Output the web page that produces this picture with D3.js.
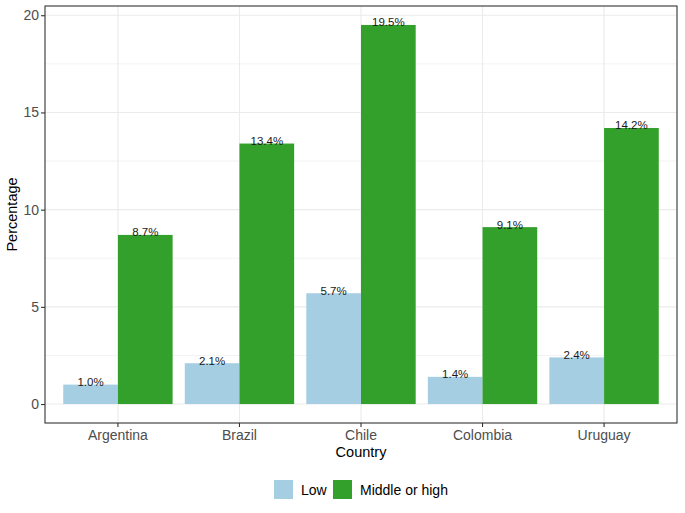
<!DOCTYPE html>
<html><head><meta charset="utf-8">
<script src="https://cdn.jsdelivr.net/npm/d3@7"></script>
<style>body{margin:0;background:#fff;font-family:"Liberation Sans",Arial,Helvetica,sans-serif;}</style>
</head><body><svg id="c" width="685" height="513"></svg>
<script>
const countries = ["Argentina","Brazil","Chile","Colombia","Uruguay"];
const groups = ["Low","Middle or high"];
const lowValues = [1.0, 2.1, 5.7, 1.4, 2.4];
const highValues = [8.7, 13.4, 19.5, 9.1, 14.2];
const yTicks = [0,5,10,15,20];
const yMinor = [2.5,7.5,12.5,17.5];
const colors = ["#A6CEE3","#33A02C"];

const svg = d3.select("#c");
const W=685,H=513;
const m={l:45,r:8,t:6,b:90};
const pw=W-m.l-m.r, ph=H-m.t-m.b;
svg.append("rect").attr("width",W).attr("height",H).attr("fill","#fff");
const g=svg.append("g").attr("transform",`translate(${m.l},${m.t})`);

// ggplot discrete expansion: 0.6 units each side
const xs=d3.scaleLinear().domain([0.4,countries.length+0.6]).range([0,pw]);
const unit = xs(2)-xs(1);
const xc = c => xs(countries.indexOf(c)+1);
const y=d3.scaleLinear().domain([-0.975,20.475]).range([ph,0]);

// grids
g.selectAll(".ymin").data(yMinor).join("line").attr("x1",0).attr("x2",pw)
 .attr("y1",d=>y(d)).attr("y2",d=>y(d)).attr("stroke","#EBEBEB").attr("stroke-width",0.6);
g.selectAll(".ymaj").data(yTicks).join("line").attr("x1",0).attr("x2",pw)
 .attr("y1",d=>y(d)).attr("y2",d=>y(d)).attr("stroke","#EBEBEB").attr("stroke-width",1.1);
g.selectAll(".xmaj").data(countries).join("line").attr("y1",0).attr("y2",ph)
 .attr("x1",d=>xc(d)).attr("x2",d=>xc(d)).attr("stroke","#EBEBEB").attr("stroke-width",1.1);

const data=[];
countries.forEach((c,i)=>{
  data.push({c,grp:0,v:lowValues[i]});
  data.push({c,grp:1,v:highValues[i]});
});
const bw=0.45*unit;
g.selectAll(".bar").data(data).join("rect")
 .attr("x",d=>xc(d.c)-0.45*unit+d.grp*bw).attr("width",bw)
 .attr("y",d=>y(d.v)).attr("height",d=>y(0)-y(d.v))
 .attr("fill",d=>colors[d.grp]);

g.selectAll(".lab").data(data).join("text")
 .attr("x",d=>xc(d.c)-0.45*unit+d.grp*bw+bw/2).attr("y",d=>y(d.v)+1.5)
 .attr("text-anchor","middle").attr("font-size","11.5px").attr("fill","#1a1a1a")
 .text(d=>d.v.toFixed(1)+"%");

// border
g.append("rect").attr("width",pw).attr("height",ph).attr("fill","none").attr("stroke","#333").attr("stroke-width",1.1);

// axes
const ya=g.append("g").call(d3.axisLeft(y).tickValues(yTicks).tickSize(4).tickPadding(2));
ya.select(".domain").remove();
ya.selectAll("line").attr("stroke","#333").attr("stroke-width",1.1);
ya.selectAll("text").attr("font-size","14px").attr("fill","#4D4D4D").attr("font-family","Liberation Sans, Arial, sans-serif");

const xa=g.append("g").attr("transform",`translate(0,${ph})`);
xa.selectAll("line").data(countries).join("line").attr("x1",d=>xc(d)).attr("x2",d=>xc(d)).attr("y1",0).attr("y2",4).attr("stroke","#333").attr("stroke-width",1.1);
xa.selectAll("text").data(countries).join("text").attr("x",d=>xc(d)).attr("y",17)
 .attr("text-anchor","middle").attr("font-size","14px").attr("fill","#4D4D4D").text(d=>d);

svg.append("text").attr("x",m.l+pw/2).attr("y",457).attr("text-anchor","middle").attr("font-size","14.5px").attr("fill","#000").text("Country");
svg.append("text").attr("transform",`translate(17,${m.t+ph/2}) rotate(-90)`).attr("text-anchor","middle").attr("font-size","14.5px").attr("fill","#000").text("Percentage");

// legend
const lg=svg.append("g");
const lx=[274,333];
groups.forEach((k,i)=>{
  lg.append("rect").attr("x",lx[i]).attr("y",480).attr("width",19).attr("height",19).attr("fill",colors[i]);
  lg.append("text").attr("x",lx[i]+27).attr("y",495).attr("font-size","14px").attr("fill","#000").text(k);
});
</script></body></html>
